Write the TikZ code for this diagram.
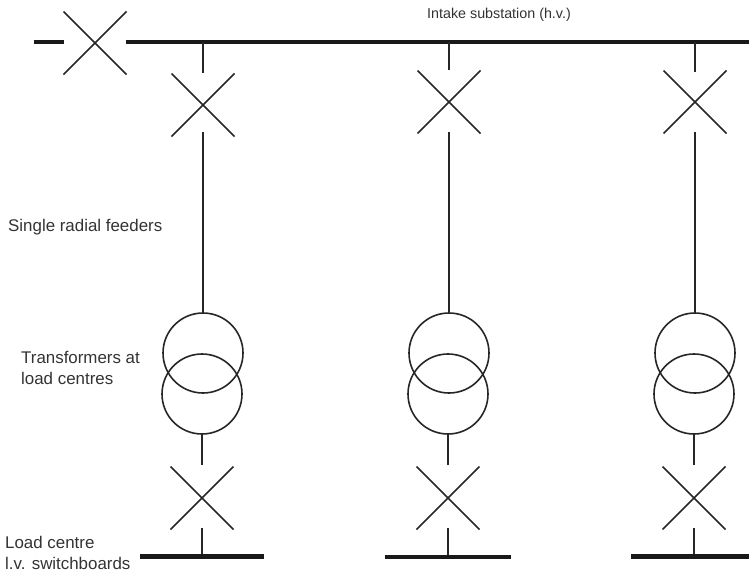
\documentclass[tikz,border=0pt]{standalone}
\usepackage{fontspec}
\setmainfont{Liberation Sans}
\tikzset{
  px/.style={x=1pt,y=-1pt},
  bus/.style={line width=4.4pt,draw=black!90},
  lvbus/.style={line width=4.8pt,draw=black!90},
  feeder/.style={line width=1.8pt,draw=black!85},
  xarm/.style={line width=1.6pt,draw=black!85},
  winding/.style={circle,draw=black!85,line width=1.6pt,minimum size=80pt,inner sep=0pt},
  lbl/.style={text=black!80,align=left,inner sep=0pt},
  lblbig/.style={lbl,font=\fontsize{16.9}{21}\selectfont},
  lblsmall/.style={lbl,font=\fontsize{14.3}{18}\selectfont}
}
\newcommand{\crossat}[3]{\draw[xarm] (#1-#3,#2-#3) -- (#1+#3,#2+#3) (#1-#3,#2+#3) -- (#1+#3,#2-#3);}
\begin{document}
\begin{tikzpicture}[px]
\useasboundingbox (0,0) rectangle (749,573);
% main bus
\coordinate (stubL) at (34,42); \coordinate (stubR) at (64,42);
\coordinate (busL) at (126,42); \coordinate (busR) at (749,42);
\draw[bus] (stubL) -- (stubR);
\draw[bus] (busL) -- (busR);
\crossat{95}{43}{31.5}
% feeders: x at bus, top cross centre y, top stem end, circle x (upper, lower), lv x, lv bus y
\foreach \n/\x/\cy/\se/\ux/\dx/\lx/\by in {a/203/105/73/203/202/202/556.5,b/449/102/70/449/448/448/557,c/695/102/72/695/694/694/556.5}{
  \coordinate (top\n) at (\x,42);
  \coordinate (hv\n) at (\x,\se);
  \coordinate (mid\n) at (\x,132);
  \node[winding] (up\n) at (\ux,353) {};
  \node[winding] (lo\n) at (\dx,394) {};
  \coordinate (tlow\n) at (\dx,465);
  \coordinate (lvtop\n) at (\lx,528);
  \coordinate (lvb\n) at (\lx,\by);
  \draw[feeder] (top\n) -- (hv\n);
  \crossat{\x}{\cy}{31.5}
  \draw[feeder] (mid\n) -- (up\n.north);
  \draw[feeder] (lo\n.south) -- (tlow\n);
  \crossat{\lx}{498}{31.5}
  \draw[feeder] (lvtop\n) -- (lvb\n);
}
\coordinate (ba1) at (140,556.5); \coordinate (ba2) at (264,556.5);
\coordinate (bb1) at (385,557); \coordinate (bb2) at (511,557);
\coordinate (bc1) at (631,556.5); \coordinate (bc2) at (749,556.5);
\draw[lvbus] (ba1) -- (ba2);
\draw[lvbus] (bb1) -- (bb2);
\draw[lvbus] (bc1) -- (bc2);
% labels
\node[lblsmall,anchor=center] (t1) at (499,15) {Intake substation (h.v.)};
\node[lblbig,anchor=west] (t2) at (8,227) {Single radial feeders};
\node[lblbig,anchor=west] (t3) at (21,368) {Transformers at\\load centres};
\node[lblbig,anchor=west] (t4) at (5,553) {Load centre\\l.v. switchboards};
\end{tikzpicture}
\end{document}
